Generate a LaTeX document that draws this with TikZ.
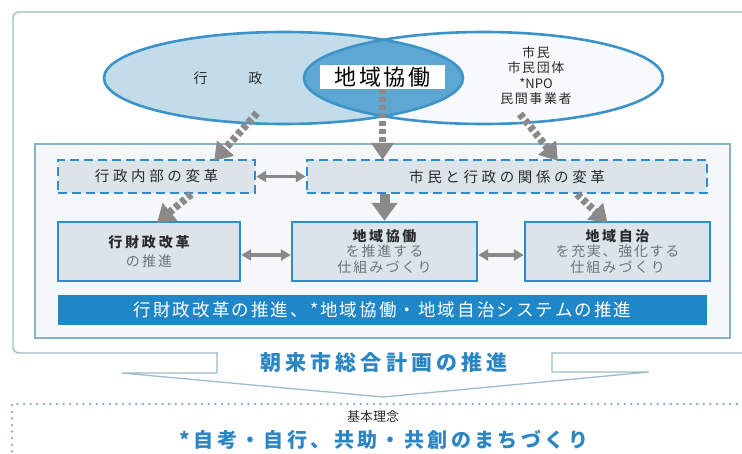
\documentclass[tikz,border=0pt]{standalone}
\usepackage{fontspec}
\setmainfont{Noto Sans CJK JP}
\newfontfamily\jp{Noto Sans CJK JP}
\usetikzlibrary{arrows.meta,shapes.geometric}
\definecolor{framegray}{HTML}{9DBCCC}
\definecolor{innerline}{HTML}{86B2CC}
\definecolor{innerfill}{HTML}{F5F7F8}
\definecolor{eblue}{HTML}{3C93C9}
\definecolor{lfill}{HTML}{C3DCEA}
\definecolor{ofill}{HTML}{5EA7D3}
\definecolor{rfill}{HTML}{F7F9FA}
\definecolor{dblue}{HTML}{2B8DCC}
\definecolor{boxfill}{HTML}{DBE4E8}
\definecolor{arrowgray}{HTML}{8A8A8A}
\definecolor{barblue}{HTML}{1F87C8}
\definecolor{txtblue}{HTML}{2C86C3}
\definecolor{txtdark}{HTML}{2B2B2B}
\definecolor{txtgray}{HTML}{6A747A}
\definecolor{dotblue}{HTML}{7FA9C6}
\newcommand\fs[2]{\fontsize{#1pt}{#2pt}\selectfont}
\newcommand\lsp[1]{\addfontfeature{LetterSpace=#1}}
\begin{document}
\begin{tikzpicture}[x=1pt,y=-1pt,
  frameline/.style={draw=framegray,line width=1.3pt},
  eline/.style={draw=eblue,line width=2.6pt},
  dbox/.style={draw=dblue,dash pattern=on 9pt off 5pt,line width=2.4pt,fill=boxfill,
    minimum height=33pt,inner sep=0pt,text=txtdark,font={\fs{14.5}{16}\lsp{25}}},
  sbox/.style={draw=dblue,line width=2.4pt,fill=boxfill,minimum height=59pt,
    inner sep=0pt,align=center,text=txtdark,font={\fs{14}{15.5}}},
  dasharrow/.style={draw=arrowgray,line width=7.5pt,dash pattern=on 5pt off 3pt,
    -{Triangle[width=22pt,length=17pt]}},
  solidarrow/.style={draw=arrowgray,line width=10pt,-{Triangle[width=25pt,length=18pt]}},
  dblarrow/.style={draw=arrowgray,line width=3.5pt,
    {Triangle[width=11pt,length=10pt]}-{Triangle[width=11pt,length=10pt]}},
  sub/.style={text=txtgray}
]
\useasboundingbox (0,0) rectangle (742,454);
\fill[white] (0,0) rectangle (742,454);
% outer frame with chevron
\draw[frameline,rounded corners=6pt] (746,12) -- (13,12) -- (13,353) -- (217.6,353);
\draw[frameline,line join=miter] (217,352.4) -- (217,373) -- (122,373) -- (383,397) -- (649,372) -- (552,372) -- (552,353) -- (746,353);
% inner frame
\draw[draw=innerline,line width=1.8pt,fill=innerfill] (35,144) rectangle (730,338);
% ellipses
\fill[lfill] (283.5,78) ellipse [x radius=179.5,y radius=46];
\fill[rfill] (483.5,78) ellipse [x radius=179.5,y radius=46];
\begin{scope}
  \clip (283.5,78) ellipse [x radius=179.5,y radius=46];
  \fill[ofill] (483.5,78) ellipse [x radius=179.5,y radius=46];
\end{scope}
\draw[eline] (283.5,78) ellipse [x radius=179.5,y radius=46];
\draw[eline] (483.5,78) ellipse [x radius=179.5,y radius=46];
% ellipse texts
\node[text=txtdark,font={\fs{14}{16}}] (gyosei) at (228,78) {行\hspace{41pt}政};
\node[text=txtdark,align=center,font={\fs{13}{15.6}}] (shimin) at (536,75.5)
  {{\lsp{12}市民}\\{\lsp{12}市民団体}\\*NPO\\{\lsp{12}民間事業者}};
\node[fill=white,minimum width=125pt,minimum height=24pt,inner sep=0pt,text=black,
  font={\fs{22}{24}\lsp{12}}] (lab) at (382.5,77) {地域協働};
% dashed boxes
\node[dbox,minimum width=197pt] (b1) at (156.5,176.5) {行政内部の変革};
\node[dbox,minimum width=400pt] (b2) at (507,176.5) {市民と行政の関係の変革};
% solid boxes
\node[sbox,minimum width=182pt] (c1) at (149,251.5)
  {{\bfseries\lsp{20}行財政改革}\\[3pt]{\color{txtgray}\lsp{16}の推進}};
\node[sbox,minimum width=185pt] (c2) at (384.5,251.5)
  {{\bfseries\lsp{18}地域協働}\\{\color{txtgray}\lsp{14}を推進する}\\{\color{txtgray}\lsp{15}仕組みづくり}};
\node[sbox,minimum width=185pt] (c3) at (617.5,251.5)
  {{\bfseries\lsp{18}地域自治}\\{\color{txtgray}\lsp{12}を充実、強化する}\\{\color{txtgray}\lsp{15}仕組みづくり}};
% blue bar
\node[fill=barblue,minimum width=649pt,minimum height=30pt,inner sep=0pt,text=white,
  font={\fs{17.5}{18}\lsp{12}}] (bar) at (382.5,310)
  {行財政改革の推進、*地域協働・地域自治システムの推進};
% chevron text
\node[text=txtblue,font={\fs{21}{22}\bfseries\lsp{20}}] (plan) at (384,362) {朝来市総合計画の推進};
% bottom dotted box
\draw[draw=dotblue,line width=2.5pt,line cap=round,dash pattern=on 0pt off 6.6pt]
  (12,458) -- (12,404) -- (746,404);
\node[text=txtdark,font={\fs{13}{14}}] (kihon) at (373,417) {基本理念};
\node[text=txtblue,font={\fs{20}{20}\bfseries\lsp{17}}] (motto) at (384,440)
  {*自考・自行、共助・共創のまちづくり};
% arrows
\coordinate (a1s) at (257,113);
\coordinate (a3s) at (520,114);
\draw[dasharrow] (a1s) -- ([xshift=-42pt,yshift=-2pt]b1.north east);
\draw[dasharrow] (a3s) -- ([xshift=252pt,yshift=-2pt]b2.north west);
\draw[dasharrow] (lab.south) -- ([yshift=-1pt]lab.south |- b2.north);
\draw[dasharrow] ([xshift=-65pt]b1.south east) -- ([xshift=8pt,yshift=-2pt]c1.north);
\draw[dasharrow] ([xshift=70pt]b2.south) -- ([xshift=-10pt,yshift=-2pt]c3.north);
\draw[solidarrow] (c2.north |- b2.south) -- (c2.north);
\draw[dblarrow] (b1.east) -- (b2.west);
\draw[dblarrow] ([yshift=-3.5pt]c1.east) -- ([yshift=-3.5pt]c2.west);
\draw[dblarrow] ([yshift=-3.5pt]c2.east) -- ([yshift=-3.5pt]c3.west);
\end{tikzpicture}
\end{document}
